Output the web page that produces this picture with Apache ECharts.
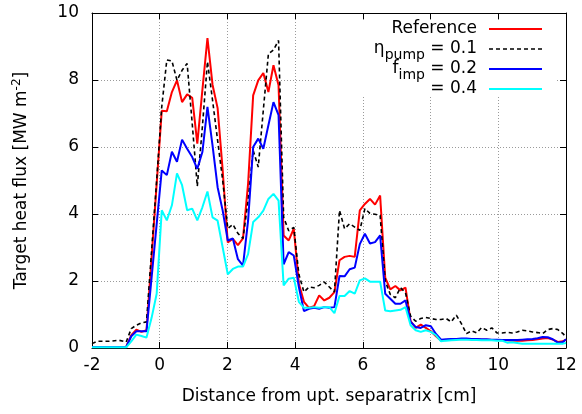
<!DOCTYPE html>
<html><head><meta charset="utf-8">
<script src="https://cdn.jsdelivr.net/npm/echarts@6/dist/echarts.min.js"></script>
<style>html,body{margin:0;padding:0;background:#fff}#c{width:582px;height:414px}</style>
</head><body><div id="c"></div>
<script>
// Distance from upstream separatrix [cm]
const xPos = [-2.0,-1.85,-1.5,-1.2,-0.99,
 -0.84,-0.69,-0.54,-0.39,-0.24,-0.09,
 0.06,0.21,0.36,0.51,0.66,0.81,0.96,1.11,1.26,1.41,1.56,1.71,1.86,2.01,
 2.16,2.31,2.46,2.61,2.76,2.91,3.06,3.21,3.36,3.51,3.66,3.81,3.96,4.11,
 4.26,4.41,4.56,4.71,4.86,5.01,5.16,5.31,5.46,5.61,5.76,5.91,6.06,6.21,6.36,6.51,
 6.66,6.81,6.96,7.11,7.26,7.41,7.56,7.71,7.86,8.01,8.16,
 8.31,8.46,8.61,8.76,8.91,9.06,9.21,9.36,9.51,9.66,9.81,9.96,10.11,10.26,10.41,10.56,10.71,10.86,11.01,11.16,11.31,11.46,11.61,11.76,11.91,12.0];

// Target heat flux [MW m^-2]
const reference = [0.03,0.03,0.03,0.03,0.03,
 0.38,0.55,0.48,0.53,2.7,4.9,
 7.08,7.07,7.64,7.99,7.34,7.57,7.47,6.1,7.7,9.25,7.86,7.16,5.3,3.15,
 3.26,3.07,3.27,4.9,7.54,7.99,8.21,7.64,8.44,7.84,3.36,3.21,3.56,1.92,
 1.38,1.2,1.25,1.57,1.42,1.5,1.67,2.62,2.72,2.75,2.72,4.11,4.3,4.45,4.28,4.55,
 2.1,1.75,1.85,1.72,1.8,0.8,0.6,0.7,0.6,0.5,0.35,
 0.22,0.24,0.25,0.26,0.27,0.27,0.26,0.26,0.25,0.25,0.24,0.24,0.23,0.23,0.22,0.22,0.22,0.23,0.24,0.26,0.28,0.3,0.25,0.18,0.2,0.25];

const etaPump01 = [0.13,0.2,0.2,0.23,0.18,
 0.58,0.68,0.75,0.78,2.9,5.0,
 7.2,8.6,8.57,7.99,8.29,8.49,6.7,4.83,6.6,8.55,7.4,6.2,5.0,3.57,
 3.69,3.42,3.27,4.4,5.9,5.4,7.1,8.78,8.9,9.18,3.9,3.5,3.6,2.2,
 1.67,1.82,1.8,1.87,1.97,1.82,1.67,4.11,3.56,3.71,3.61,3.51,4.16,4.02,3.99,3.96,
 2.0,1.6,1.5,1.8,1.65,0.95,0.8,0.88,0.91,0.88,0.85,
 0.85,0.88,0.78,0.98,0.73,0.43,0.51,0.45,0.61,0.53,0.6,0.45,0.45,0.47,0.45,0.48,0.53,0.51,0.48,0.46,0.43,0.55,0.58,0.55,0.43,0.33];

const fImp02 = [0.03,0.03,0.03,0.03,0.03,
 0.35,0.5,0.5,0.5,2.1,3.7,
 5.3,5.16,5.86,5.56,6.22,5.95,5.7,5.35,5.85,7.2,6.05,4.8,4.1,3.21,
 3.27,2.65,2.46,3.8,6.0,6.25,5.95,6.65,7.34,6.95,2.5,2.86,2.76,1.82,
 1.1,1.17,1.2,1.17,1.22,1.2,1.22,2.15,2.14,2.35,2.4,3.1,3.41,3.12,3.16,3.36,
 1.62,1.47,1.32,1.32,1.42,0.78,0.63,0.6,0.68,0.65,0.42,
 0.25,0.26,0.27,0.27,0.28,0.28,0.27,0.27,0.26,0.26,0.25,0.25,0.24,0.24,0.24,0.24,0.25,0.26,0.27,0.29,0.33,0.32,0.26,0.16,0.18,0.26];

const fImp04 = [0.02,0.02,0.02,0.02,0.02,
 0.2,0.4,0.36,0.31,0.9,1.62,
 4.11,3.81,4.26,5.21,4.86,4.11,4.16,3.81,4.2,4.67,3.9,3.8,3.0,2.2,
 2.36,2.43,2.43,2.8,3.76,3.9,4.1,4.45,4.6,4.4,1.87,2.07,2.1,1.38,
 1.2,1.2,1.22,1.2,1.22,1.22,1.04,1.55,1.55,1.7,1.62,2.02,2.08,1.98,1.98,1.98,
 1.12,1.1,1.12,1.14,1.22,0.68,0.53,0.48,0.53,0.48,0.38,
 0.2,0.22,0.23,0.24,0.25,0.25,0.24,0.24,0.23,0.23,0.23,0.22,0.22,0.16,0.17,0.15,0.13,0.13,0.13,0.13,0.13,0.13,0.13,0.13,0.13,0.15];

const seriesNames = ['Reference', 'ηpump = 0.1', 'fimp = 0.2', '= 0.4'];
const legendRich = ['{m|Reference}', '{m|η}{s|pump}{m| = 0.1}', '{m|f}{s|imp}{m| = 0.2}', '{m|= 0.4}'];
const xTitle = 'Distance from upt. separatrix [cm]';
const yTitle = '{n|Target heat flux [MW m}{p|-2}{n|]}';

const FONT = 'DejaVu Sans';
const colors = ['#ff0000', '#000000', '#0000ff', '#00ffff'];
const dashes = ['solid', [4, 3], 'solid', 'solid'];
const widths = [2, 1.6, 2, 2];
const allData = [reference, etaPump01, fImp02, fImp04];

const chart = echarts.init(document.getElementById('c'), null, {renderer: 'canvas'});

const tickCommon = {show: true, inside: true, length: 6, lineStyle: {color: '#000', width: 1}};
const lineCommon = {show: true, onZero: false, lineStyle: {color: '#000', width: 1}};
const labelStyle = {fontFamily: FONT, fontSize: 17, color: '#000'};
const gridLine = {show: true, lineStyle: {color: '#9a9a9a', width: 1, type: [1, 2]}};

const series = allData.map((vals, i) => ({
  name: seriesNames[i],
  type: 'line',
  data: xPos.map((x, k) => [x, vals[k]]),
  showSymbol: false,
  symbol: 'none',
  clip: true,
  z: 3 + i,
  lineStyle: {color: colors[i], width: widths[i], type: dashes[i]},
  itemStyle: {color: colors[i]}
}));

// legend (gnuplot style key, text right-aligned, sample line on the right)
const legendEls = [{
  type: 'rect', z: 1,
  shape: {x: 318, y: 20, width: 237, height: 77},
  style: {fill: '#fff'}
}];
const rowY = [29, 49, 69, 89];
legendRich.forEach((t, i) => {
  legendEls.push({
    type: 'text', z: 10, x: 477, y: rowY[i],
    style: {
      text: t, align: 'right', verticalAlign: 'middle', fill: '#000',
      rich: {
        m: {fontFamily: FONT, fontSize: 17, lineHeight: 20, fill: '#000'},
        s: {fontFamily: FONT, fontSize: 14, lineHeight: 14, padding: [13, 0, 0, 0], fill: '#000'}
      }
    }
  });
  legendEls.push({
    type: 'line', z: 10,
    shape: {x1: 489, y1: rowY[i], x2: 542, y2: rowY[i]},
    style: {stroke: colors[i], lineWidth: widths[i], lineDash: dashes[i] === 'solid' ? null : dashes[i]}
  });
});

chart.setOption({
  animation: false,
  backgroundColor: '#fff',
  grid: {left: 92, right: 16, top: 13, bottom: 66, containLabel: false},
  xAxis: [{
    type: 'value', min: -2, max: 12, interval: 2, position: 'bottom',
    axisLine: lineCommon, axisTick: tickCommon,
    axisLabel: Object.assign({margin: 9}, labelStyle),
    splitLine: gridLine,
    name: xTitle, nameLocation: 'middle', nameGap: 40,
    nameTextStyle: {fontFamily: FONT, fontSize: 17, color: '#000'}
  }, {
    type: 'value', min: -2, max: 12, interval: 2, position: 'top',
    axisLine: lineCommon, axisTick: tickCommon,
    axisLabel: {show: false}, splitLine: {show: false}
  }],
  yAxis: [{
    type: 'value', min: 0, max: 10, interval: 2, position: 'left',
    axisLine: lineCommon, axisTick: tickCommon,
    axisLabel: Object.assign({margin: 13}, labelStyle),
    splitLine: gridLine,
    name: yTitle, nameLocation: 'middle', nameGap: 60, nameRotate: 90,
    nameTextStyle: {
      fontFamily: FONT, fontSize: 17, color: '#000',
      rich: {
        n: {fontFamily: FONT, fontSize: 17, color: '#000'},
        p: {fontFamily: FONT, fontSize: 12, color: '#000', padding: [0, 0, 9, 0]}
      }
    }
  }, {
    type: 'value', min: 0, max: 10, interval: 2, position: 'right',
    axisLine: lineCommon, axisTick: tickCommon,
    axisLabel: {show: false}, splitLine: {show: false}
  }],
  graphic: legendEls,
  series: series
});
</script></body></html>
